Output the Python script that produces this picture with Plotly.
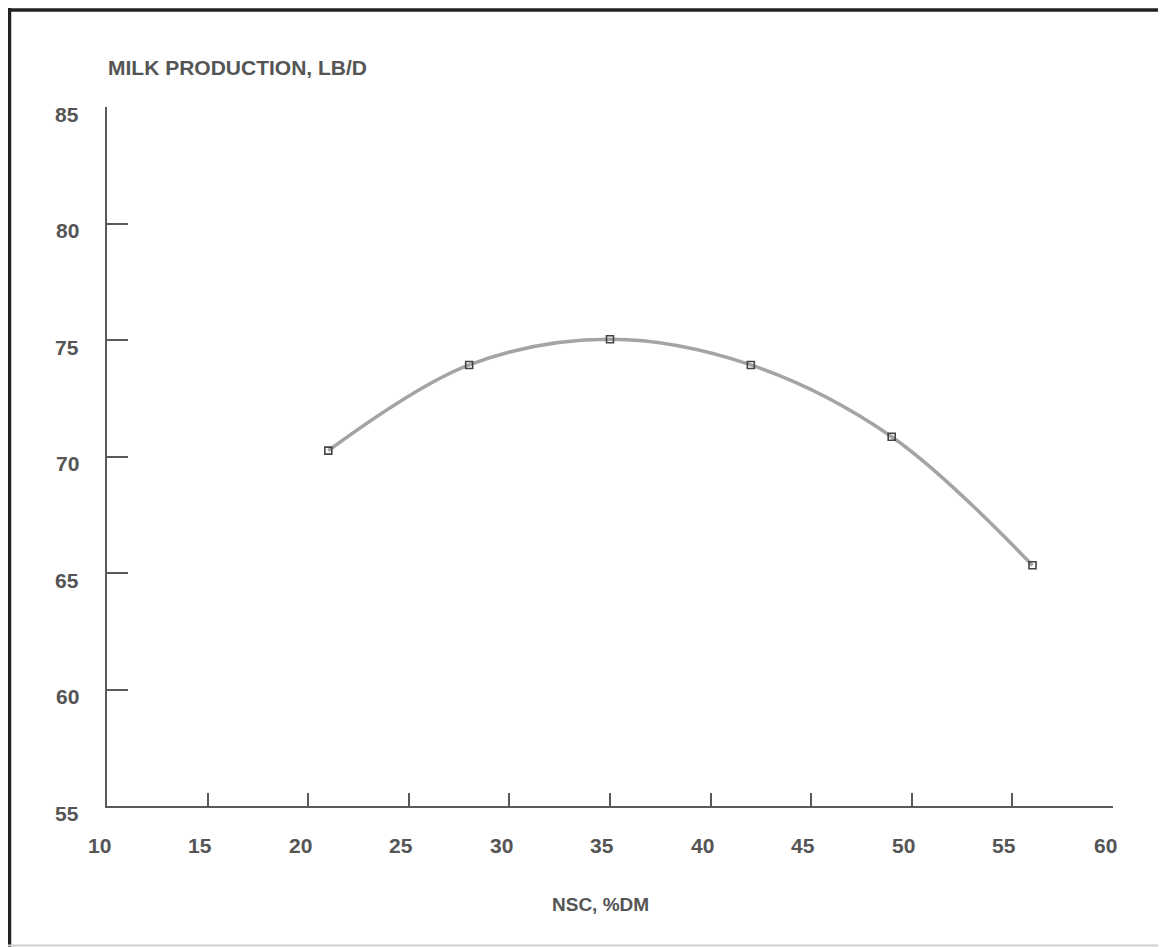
import plotly.graph_objects as go

nsc = [21, 28, 35, 42, 49, 56]
milk = [70.25, 73.93, 75.03, 73.93, 70.85, 65.33]
x_ticks = [10, 15, 20, 25, 30, 35, 40, 45, 50, 55, 60]
y_ticks = [55, 60, 65, 70, 75, 80, 85]

OFF = 8  # page body margin
W, H = 1166 - OFF, 947 - OFF
L, T = 107 - OFF, 107 - OFF
R = W - (1113 - OFF)
B = H - (806 - OFF)
pw, ph = W - L - R, H - T - B

def px(xp):
    return (xp - OFF - L) / pw

def py(yp):
    return (H - B - (yp - OFF)) / ph

fig = go.Figure()
fig.add_trace(go.Scatter(
    x=nsc, y=milk, mode="lines",
    line=dict(shape="spline", smoothing=1.0, color="#a4a4a4", width=3.5),
    hoverinfo="skip", showlegend=False))
fig.add_trace(go.Scatter(
    x=nsc, y=milk, mode="markers",
    marker=dict(symbol="square-open", size=7, color="#444444", line=dict(width=1.6, color="#444444")),
    showlegend=False))

font_fam = "Liberation Sans, Arial, sans-serif"
label_font = dict(family=font_fam, size=21, color="#555555", weight="bold")
axis_common = dict(showgrid=False, zeroline=False, showline=True, linecolor="#5a5a5a", linewidth=1.5,
                   ticks="inside", tickcolor="#5a5a5a", tickwidth=1.5, showticklabels=False)
fig.update_xaxes(range=[10, 60], tickvals=x_ticks, ticklen=13, **axis_common)
fig.update_yaxes(range=[55, 85], tickvals=y_ticks, ticklen=21, **axis_common)

for v in x_ticks:
    fig.add_annotation(text=str(v), xref="x", yref="paper", x=v, y=0,
                       xanchor="center", yanchor="middle", xshift=-8, yshift=-39,
                       showarrow=False, font=label_font)
for v in y_ticks:
    fig.add_annotation(text=str(v), xref="paper", yref="y", x=0, y=v,
                       xanchor="right", yanchor="middle", xshift=-26, yshift=-7,
                       showarrow=False, font=label_font)

fig.add_annotation(text="<b>MILK PRODUCTION, LB/D</b>", xref="paper", yref="paper",
                   x=px(106), y=py(68), xanchor="left", yanchor="middle", showarrow=False,
                   font=dict(family=font_fam, size=21, color="#555555"))
fig.add_annotation(text="<b>NSC, %DM</b>", xref="paper", yref="paper",
                   x=px(600), y=py(904), xanchor="center", yanchor="middle", showarrow=False,
                   font=dict(family=font_fam, size=19, color="#555555"))

# scanned page frame: dark left and top edges, faint bottom edge
fig.add_shape(type="line", xref="paper", yref="paper",
              x0=px(9.5), x1=px(9.5), y0=py(947), y1=py(8),
              line=dict(color="#222222", width=3.5), layer="below")
fig.add_shape(type="line", xref="paper", yref="paper",
              x0=px(8), x1=px(1180), y0=py(10), y1=py(10),
              line=dict(color="#222222", width=3.5), layer="below")
fig.add_shape(type="line", xref="paper", yref="paper",
              x0=px(8), x1=px(1180), y0=py(945.5), y1=py(945.5),
              line=dict(color="#cfcfcf", width=2), layer="below")

fig.update_layout(width=W, height=H, margin=dict(l=L, r=R, t=T, b=B),
                  plot_bgcolor="white", paper_bgcolor="white")
fig.write_html("out.html")
